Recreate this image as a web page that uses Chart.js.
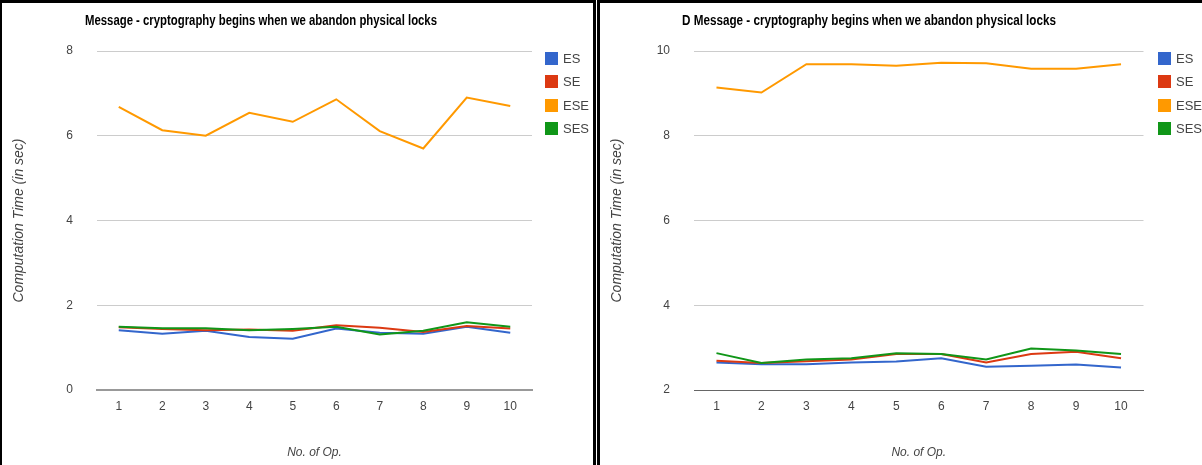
<!DOCTYPE html>
<html>
<head>
<meta charset="utf-8">
<script src="https://cdn.jsdelivr.net/npm/chart.js@4.4.1/dist/chart.umd.min.js"></script>
<style>
html, body { margin: 0; padding: 0; background: #fff; overflow: hidden; width: 1202px; height: 465px; }
.panel { position: absolute; top: 0; border-top: 3px solid #000; background: #fff; height: 462px; }
#leftPanel { left: 0; border-left: 2px solid #000; border-right: 3px solid #000; width: 591px; }
#rightPanel { left: 597px; border-left: 3px solid #000; width: 620px; }
canvas { display: block; }
</style>
</head>
<body>
<div class="panel" id="leftPanel"><canvas id="chart-left" width="591" height="462"></canvas></div>
<div class="panel" id="rightPanel"><canvas id="chart-right" width="620" height="462"></canvas></div>
<script>
// Computation time per operation
const opLabels = ['1', '2', '3', '4', '5', '6', '7', '8', '9', '10'];
const seriesNames = ['ES', 'SE', 'ESE', 'SES'];
const seriesColors = ['#3366cc', '#dc3912', '#ff9900', '#109618'];

// left chart: "Message"
const leftES  = [1.41, 1.33, 1.40, 1.25, 1.21, 1.45, 1.35, 1.33, 1.49, 1.35];
const leftSE  = [1.48, 1.44, 1.41, 1.43, 1.40, 1.53, 1.47, 1.37, 1.51, 1.45];
const leftESE = [6.68, 6.13, 6.00, 6.54, 6.33, 6.86, 6.11, 5.70, 6.90, 6.70];
const leftSES = [1.49, 1.46, 1.46, 1.41, 1.44, 1.49, 1.31, 1.40, 1.60, 1.49];
const leftTicks = [0, 2, 4, 6, 8];

// right chart: "D Message"
const rightES  = [2.65, 2.61, 2.61, 2.65, 2.67, 2.75, 2.55, 2.57, 2.60, 2.53];
const rightSE  = [2.69, 2.64, 2.68, 2.72, 2.85, 2.85, 2.65, 2.85, 2.90, 2.75];
const rightESE = [9.14, 9.02, 9.69, 9.69, 9.65, 9.72, 9.71, 9.58, 9.58, 9.69];
const rightSES = [2.87, 2.64, 2.72, 2.75, 2.87, 2.85, 2.72, 2.98, 2.93, 2.85];
const rightTicks = [2, 4, 6, 8, 10];

const baseFont = "'Liberation Sans', Arial, sans-serif";

// title (left aligned just before the plot) and the square legend on the right
const panelDecor = {
    id: 'panelDecor',
    afterDraw(chart, args, opts) {
        const ctx = chart.ctx;
        const area = chart.chartArea;
        ctx.save();
        ctx.textAlign = 'left';
        ctx.textBaseline = 'middle';
        ctx.fillStyle = '#000';
        ctx.font = "bold 14px 'Liberation Sans Narrow', 'Arial Narrow', " + baseFont;
        ctx.fillText(opts.title, area.left - 12, 18, opts.titleWidth);

        ctx.font = '13px ' + baseFont;
        chart.data.datasets.forEach((ds, i) => {
            const x = Math.round(area.right + opts.legendGap);
            const y = Math.round(area.top + 0.5 + i * 23.5);
            ctx.fillStyle = ds.borderColor;
            ctx.fillRect(x, y, 13, 13);
            ctx.fillStyle = '#444';
            ctx.fillText(ds.label, x + 18, y + 7);
        });
        ctx.restore();
    }
};

function makeChart(canvasId, series, yTicks, cfg) {
    const datasets = series.map((values, i) => ({
        label: seriesNames[i],
        data: values,
        borderColor: seriesColors[i],
        backgroundColor: seriesColors[i],
        borderWidth: 2,
        pointRadius: 0,
        tension: 0,
        fill: false,
        order: series.length - i
    }));

    return new Chart(document.getElementById(canvasId), {
        type: 'line',
        data: { labels: opLabels, datasets: datasets },
        plugins: [panelDecor],
        options: {
            responsive: false,
            animation: false,
            layout: {
                padding: { top: 48, right: cfg.padRight, left: 0, bottom: 0 }
            },
            plugins: {
                legend: { display: false },
                tooltip: { enabled: false },
                panelDecor: {
                    title: cfg.title,
                    titleWidth: cfg.titleWidth,
                    legendGap: cfg.legendGap
                }
            },
            scales: {
                x: {
                    offset: true,
                    grid: { display: false, drawTicks: false },
                    border: { display: true, color: cfg.baseColor, width: cfg.baseWidth },
                    ticks: {
                        color: '#444',
                        padding: 9,
                        maxRotation: 0,
                        font: { family: baseFont, size: 12 }
                    },
                    title: {
                        display: true,
                        text: 'No. of Op.',
                        color: '#444',
                        padding: { top: 0, bottom: 5 },
                        font: { family: baseFont, size: 12, style: 'italic' }
                    },
                    afterFit: (scale) => { scale.height = 75; }
                },
                y: {
                    min: yTicks[0],
                    max: yTicks[yTicks.length - 1],
                    afterBuildTicks: (scale) => {
                        scale.ticks = yTicks.map(v => ({ value: v }));
                    },
                    grid: {
                        drawTicks: false,
                        color: (c) => c.tick && c.tick.value === yTicks[0] ? 'rgba(0,0,0,0)' : '#cccccc'
                    },
                    border: { display: false },
                    ticks: {
                        color: '#444',
                        padding: 24,
                        font: { family: baseFont, size: 12 }
                    },
                    title: {
                        display: true,
                        text: 'Computation Time (in sec)',
                        color: '#444',
                        padding: { top: 9, bottom: 0 },
                        font: { family: baseFont, size: 14, style: 'italic' }
                    },
                    afterFit: (scale) => { scale.width = cfg.yWidth; }
                }
            }
        }
    });
}

document.addEventListener('DOMContentLoaded', () => {
    makeChart('chart-left', [leftES, leftSE, leftESE, leftSES], leftTicks, {
        title: 'Message - cryptography begins when we abandon physical locks',
        titleWidth: 352,
        padRight: 61,
        yWidth: 95,
        legendGap: 13,
        baseColor: '#999999',
        baseWidth: 2
    });
    makeChart('chart-right', [rightES, rightSE, rightESE, rightSES], rightTicks, {
        title: 'D Message - cryptography begins when we abandon physical locks',
        titleWidth: 374,
        padRight: 76.5,
        yWidth: 94,
        legendGap: 14,
        baseColor: '#666666',
        baseWidth: 1
    });
});
</script>
</body>
</html>
